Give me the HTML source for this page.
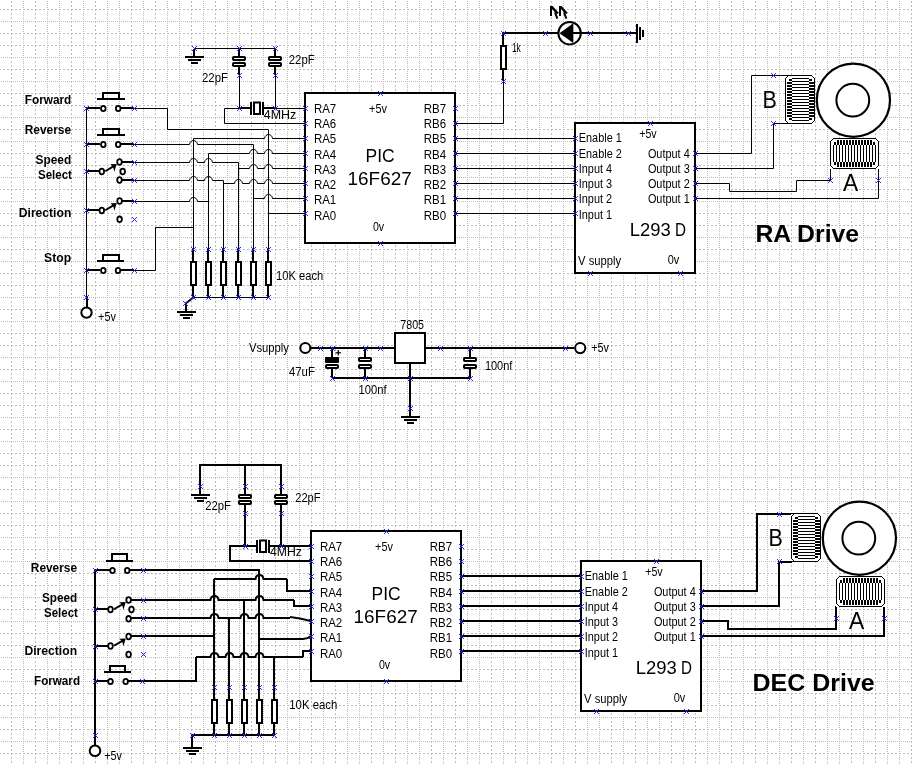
<!DOCTYPE html><html><head><meta charset="utf-8"><title>Telescope drive schematic</title><style>html,body{margin:0;padding:0;background:#fff;overflow:hidden;}svg{display:block;will-change:transform;}text{font-family:"Liberation Sans",sans-serif;fill:#000;}</style></head><body>
<svg width="912" height="764" viewBox="0 0 912 764">
<defs>
<g id="mk"><path d="M-2 -2h1v1h-1zM-1 -1h1v1h-1zM0 0h1v1h-1zM1 1h1v1h-1zM2 2h1v1h-1zM2 -2h1v1h-1zM1 -1h1v1h-1zM-1 1h1v1h-1zM-2 2h1v1h-1z" fill="#2030ff"/></g>
</defs>
<rect width="912" height="764" fill="#fff"/>
<g stroke="#bababa" stroke-width="1" fill="none" shape-rendering="crispEdges">
<path d="M11.5 1V764M35.5 1V764M71.5 1V764M95.5 1V764M131.5 1V764M155.5 1V764M191.5 1V764M215.5 1V764M251.5 1V764M275.5 1V764M311.5 1V764M335.5 1V764M371.5 1V764M395.5 1V764M431.5 1V764M455.5 1V764M491.5 1V764M515.5 1V764M551.5 1V764M575.5 1V764M611.5 1V764M635.5 1V764M671.5 1V764M695.5 1V764M731.5 1V764M755.5 1V764M791.5 1V764M815.5 1V764M851.5 1V764M875.5 1V764M911.5 1V764M-1 9.5H912M-1 33.5H912M-1 45.5H912M-1 69.5H912M-1 93.5H912M-1 105.5H912M-1 129.5H912M-1 153.5H912M-1 165.5H912M-1 189.5H912M-1 213.5H912M-1 225.5H912M-1 249.5H912M-1 273.5H912M-1 285.5H912M-1 309.5H912M-1 333.5H912M-1 345.5H912M-1 369.5H912M-1 393.5H912M-1 405.5H912M-1 429.5H912M-1 453.5H912M-1 465.5H912M-1 489.5H912M-1 513.5H912M-1 525.5H912M-1 549.5H912M-1 573.5H912M-1 585.5H912M-1 609.5H912M-1 633.5H912M-1 645.5H912M-1 669.5H912M-1 693.5H912M-1 705.5H912M-1 729.5H912M-1 753.5H912" stroke-dasharray="2 2"/>
<path d="M23.5 1V764M47.5 1V764M59.5 1V764M83.5 1V764M107.5 1V764M119.5 1V764M143.5 1V764M167.5 1V764M179.5 1V764M203.5 1V764M227.5 1V764M239.5 1V764M263.5 1V764M287.5 1V764M299.5 1V764M323.5 1V764M347.5 1V764M359.5 1V764M383.5 1V764M407.5 1V764M419.5 1V764M443.5 1V764M467.5 1V764M479.5 1V764M503.5 1V764M527.5 1V764M539.5 1V764M563.5 1V764M587.5 1V764M599.5 1V764M623.5 1V764M647.5 1V764M659.5 1V764M683.5 1V764M707.5 1V764M719.5 1V764M743.5 1V764M767.5 1V764M779.5 1V764M803.5 1V764M827.5 1V764M839.5 1V764M863.5 1V764M887.5 1V764M899.5 1V764M1 21.5H912M1 57.5H912M1 81.5H912M1 117.5H912M1 141.5H912M1 177.5H912M1 201.5H912M1 237.5H912M1 261.5H912M1 297.5H912M1 321.5H912M1 357.5H912M1 381.5H912M1 417.5H912M1 441.5H912M1 477.5H912M1 501.5H912M1 537.5H912M1 561.5H912M1 597.5H912M1 621.5H912M1 657.5H912M1 681.5H912M1 717.5H912M1 741.5H912" stroke-dasharray="1 1"/>
</g>
<path d="M194.5 48.5 L275.5 48.5" stroke="#000" stroke-width="1" fill="none"/>
<rect x="193" y="49" width="2" height="7" fill="#000"/>
<rect x="185" y="56" width="19" height="2" fill="#000"/>
<rect x="188" y="59" width="13" height="2" fill="#000"/>
<rect x="191" y="62" width="7" height="2" fill="#000"/>
<path d="M239 49 L239 56" stroke="#000" stroke-width="2" fill="none"/>
<rect x="233" y="57" width="12" height="3" rx="0.8" stroke="#000" stroke-width="2" fill="#fff"/>
<rect x="233" y="63" width="12" height="3" rx="0.8" stroke="#000" stroke-width="2" fill="#fff"/>
<path d="M239 67 L239 75" stroke="#000" stroke-width="2" fill="none"/>
<path d="M239.5 75.5 L239.5 108.5" stroke="#000" stroke-width="1" fill="none"/>
<path d="M275 49 L275 56" stroke="#000" stroke-width="2" fill="none"/>
<rect x="269" y="57" width="12" height="3" rx="0.8" stroke="#000" stroke-width="2" fill="#fff"/>
<rect x="269" y="63" width="12" height="3" rx="0.8" stroke="#000" stroke-width="2" fill="#fff"/>
<path d="M275 67 L275 75" stroke="#000" stroke-width="2" fill="none"/>
<path d="M275.5 75.5 L275.5 108.5" stroke="#000" stroke-width="1" fill="none"/>
<path d="M239 108 L250 108" stroke="#000" stroke-width="2" fill="none"/>
<path d="M264 108 L275 108" stroke="#000" stroke-width="2" fill="none"/>
<rect x="250" y="102" width="2" height="13" fill="#000"/>
<rect x="262" y="102" width="2" height="13" fill="#000"/>
<rect x="254" y="102.5" width="6" height="11.5" stroke="#000" stroke-width="2" fill="#fff"/>
<path d="M239.5 108.5 L224.5 108.5 L224.5 123.5 L305.5 123.5" stroke="#000" stroke-width="1" fill="none"/>
<path d="M275.5 108.5 L305.5 108.5" stroke="#000" stroke-width="1" fill="none"/>
<text x="202" y="82" font-size="13" font-weight="normal" textLength="25.9" lengthAdjust="spacingAndGlyphs">22pF</text>
<text x="288.8" y="63.6" font-size="13" font-weight="normal" textLength="25.9" lengthAdjust="spacingAndGlyphs">22pF</text>
<text x="263.8" y="118.7" font-size="13" font-weight="normal" textLength="32.55" lengthAdjust="spacingAndGlyphs">4MHz</text>
<rect x="305" y="93" width="150" height="150" stroke="#000" stroke-width="2" fill="#fff"/>
<text x="313.9" y="112.8" font-size="13" font-weight="normal" textLength="22.33" lengthAdjust="spacingAndGlyphs">RA7</text>
<text x="313.9" y="128.05" font-size="13" font-weight="normal" textLength="22.33" lengthAdjust="spacingAndGlyphs">RA6</text>
<text x="313.9" y="143.3" font-size="13" font-weight="normal" textLength="22.33" lengthAdjust="spacingAndGlyphs">RA5</text>
<text x="313.9" y="158.55" font-size="13" font-weight="normal" textLength="22.33" lengthAdjust="spacingAndGlyphs">RA4</text>
<text x="313.9" y="173.8" font-size="13" font-weight="normal" textLength="22.33" lengthAdjust="spacingAndGlyphs">RA3</text>
<text x="313.9" y="189.05" font-size="13" font-weight="normal" textLength="22.33" lengthAdjust="spacingAndGlyphs">RA2</text>
<text x="313.9" y="204.3" font-size="13" font-weight="normal" textLength="22.33" lengthAdjust="spacingAndGlyphs">RA1</text>
<text x="313.9" y="219.55" font-size="13" font-weight="normal" textLength="22.33" lengthAdjust="spacingAndGlyphs">RA0</text>
<text x="423.8" y="112.8" font-size="13" font-weight="normal" textLength="22.33" lengthAdjust="spacingAndGlyphs">RB7</text>
<text x="423.8" y="128.05" font-size="13" font-weight="normal" textLength="22.33" lengthAdjust="spacingAndGlyphs">RB6</text>
<text x="423.8" y="143.3" font-size="13" font-weight="normal" textLength="22.33" lengthAdjust="spacingAndGlyphs">RB5</text>
<text x="423.8" y="158.55" font-size="13" font-weight="normal" textLength="22.33" lengthAdjust="spacingAndGlyphs">RB4</text>
<text x="423.8" y="173.8" font-size="13" font-weight="normal" textLength="22.33" lengthAdjust="spacingAndGlyphs">RB3</text>
<text x="423.8" y="189.05" font-size="13" font-weight="normal" textLength="22.33" lengthAdjust="spacingAndGlyphs">RB2</text>
<text x="423.8" y="204.3" font-size="13" font-weight="normal" textLength="22.33" lengthAdjust="spacingAndGlyphs">RB1</text>
<text x="423.8" y="219.55" font-size="13" font-weight="normal" textLength="22.33" lengthAdjust="spacingAndGlyphs">RB0</text>
<text x="369.1" y="112.7" font-size="13" font-weight="normal" textLength="17.86" lengthAdjust="spacingAndGlyphs">+5v</text>
<text x="365.5" y="162" font-size="19" font-weight="normal" textLength="29.13" lengthAdjust="spacingAndGlyphs">PIC</text>
<text x="347.6" y="185" font-size="19" font-weight="normal" textLength="64.14" lengthAdjust="spacingAndGlyphs">16F627</text>
<text x="372.9" y="230.8" font-size="13" font-weight="normal" textLength="11.18" lengthAdjust="spacingAndGlyphs">0v</text>
<path d="M86.5 108.5 L86.5 297.5" stroke="#000" stroke-width="1" fill="none"/>
<path d="M86 108 L100 108" stroke="#000" stroke-width="2" fill="none"/>
<path d="M120 108 L134 108" stroke="#000" stroke-width="2" fill="none"/>
<ellipse cx="103.3" cy="108.5" rx="2.3" ry="2.7" stroke="#000" stroke-width="1.8" fill="#fff"/>
<ellipse cx="118.2" cy="108.5" rx="2.3" ry="2.7" stroke="#000" stroke-width="1.8" fill="#fff"/>
<path d="M97 99 L125 99" stroke="#000" stroke-width="2" fill="none"/>
<path d="M103 99 L103 93 L119 93 L119 99" stroke="#000" stroke-width="2" fill="none"/>
<path d="M86 144 L100 144" stroke="#000" stroke-width="2" fill="none"/>
<path d="M120 144 L134 144" stroke="#000" stroke-width="2" fill="none"/>
<ellipse cx="103.3" cy="144.5" rx="2.3" ry="2.7" stroke="#000" stroke-width="1.8" fill="#fff"/>
<ellipse cx="118.2" cy="144.5" rx="2.3" ry="2.7" stroke="#000" stroke-width="1.8" fill="#fff"/>
<path d="M97 135 L125 135" stroke="#000" stroke-width="2" fill="none"/>
<path d="M103 135 L103 129 L119 129 L119 135" stroke="#000" stroke-width="2" fill="none"/>
<path d="M86 171 L99 171" stroke="#000" stroke-width="2" fill="none"/>
<ellipse cx="101.8" cy="171.5" rx="2.3" ry="2.8" stroke="#000" stroke-width="1.8" fill="#fff"/>
<ellipse cx="119.5" cy="162" rx="2.3" ry="2.8" stroke="#000" stroke-width="1.8" fill="#fff"/>
<path d="M121 162 L134 162" stroke="#000" stroke-width="2" fill="none"/>
<ellipse cx="122.7" cy="171.5" rx="2.3" ry="2.8" stroke="#000" stroke-width="1.8" fill="#fff"/>
<ellipse cx="119.5" cy="180" rx="2.3" ry="2.8" stroke="#000" stroke-width="1.8" fill="#fff"/>
<path d="M121 180 L134 180" stroke="#000" stroke-width="2" fill="none"/>
<path d="M105.2 171.2 L114.6 165.6" stroke="#000" stroke-width="1.9" fill="none"/>
<path d="M110.3 164.3 L116.7 164.1 L114.3 171.7 L113.1 166.9 Z" fill="#000"/>
<path d="M86 210 L99 210" stroke="#000" stroke-width="2" fill="none"/>
<ellipse cx="101.8" cy="210.5" rx="2.3" ry="2.8" stroke="#000" stroke-width="1.8" fill="#fff"/>
<ellipse cx="119.6" cy="201" rx="2.3" ry="2.8" stroke="#000" stroke-width="1.8" fill="#fff"/>
<path d="M122 201 L134 201" stroke="#000" stroke-width="2" fill="none"/>
<ellipse cx="119.6" cy="219.3" rx="2.3" ry="2.8" stroke="#000" stroke-width="1.8" fill="#fff"/>
<path d="M105.2 210.2 L114.7 204.6" stroke="#000" stroke-width="1.9" fill="none"/>
<path d="M110.4 203.3 L116.8 203.1 L114.4 210.7 L113.2 205.9 Z" fill="#000"/>
<path d="M86 270 L100 270" stroke="#000" stroke-width="2" fill="none"/>
<path d="M120 270 L134 270" stroke="#000" stroke-width="2" fill="none"/>
<ellipse cx="103.3" cy="270.5" rx="2.3" ry="2.7" stroke="#000" stroke-width="1.8" fill="#fff"/>
<ellipse cx="118" cy="270.5" rx="2.3" ry="2.7" stroke="#000" stroke-width="1.8" fill="#fff"/>
<path d="M97 261 L124 261" stroke="#000" stroke-width="2" fill="none"/>
<path d="M103 261 L103 255 L119 255 L119 261" stroke="#000" stroke-width="2" fill="none"/>
<circle cx="86.5" cy="312.6" r="5.2" stroke="#000" stroke-width="2" fill="#fff"/>
<path d="M87 297 L87 307" stroke="#000" stroke-width="2" fill="none"/>
<text x="98.1" y="321.4" font-size="13" font-weight="normal" textLength="17.86" lengthAdjust="spacingAndGlyphs">+5v</text>
<text x="24.7" y="103.9" font-size="13" font-weight="bold" textLength="46.63" lengthAdjust="spacingAndGlyphs">Forward</text>
<text x="24.7" y="133.7" font-size="13" font-weight="bold" textLength="46.39" lengthAdjust="spacingAndGlyphs">Reverse</text>
<text x="35.5" y="163.9" font-size="13" font-weight="bold" textLength="35.71" lengthAdjust="spacingAndGlyphs">Speed</text>
<text x="38" y="178.8" font-size="13" font-weight="bold" textLength="33.95" lengthAdjust="spacingAndGlyphs">Select</text>
<text x="18.8" y="216.7" font-size="13" font-weight="bold" textLength="52.49" lengthAdjust="spacingAndGlyphs">Direction</text>
<text x="44" y="261.7" font-size="13" font-weight="bold" textLength="27.09" lengthAdjust="spacingAndGlyphs">Stop</text>
<path d="M134.5 108.5 L167.5 108.5 L167.5 129.5 L268.5 129.5 L268.5 249.5" stroke="#000" stroke-width="1" fill="none"/>
<path d="M268.5 213.5 L305.5 213.5" stroke="#000" stroke-width="1" fill="none"/>
<path d="M134.5 144.5 L189.5 144.5 C190.1 139.18 196.9 139.18 197.5 144.5 L253.5 144.5" stroke="#000" stroke-width="1" fill="none"/>
<path d="M253.5 144.5 L253.5 249.5" stroke="#000" stroke-width="1" fill="none"/>
<path d="M253.5 198.5 L264.5 198.5 C265.1 193.18 271.9 193.18 272.5 198.5 L305.5 198.5" stroke="#000" stroke-width="1" fill="none"/>
<path d="M134.5 162.5 L189.5 162.5 C190.1 157.18 196.9 157.18 197.5 162.5 L204.5 162.5 C205.1 157.18 211.9 157.18 212.5 162.5 L238.5 162.5" stroke="#000" stroke-width="1" fill="none"/>
<path d="M238.5 162.5 L238.5 249.5" stroke="#000" stroke-width="1" fill="none"/>
<path d="M238.5 168.5 L249.5 168.5 C250.1 163.18 256.9 163.18 257.5 168.5 L264.5 168.5 C265.1 163.18 271.9 163.18 272.5 168.5 L305.5 168.5" stroke="#000" stroke-width="1" fill="none"/>
<path d="M134.5 180.5 L189.5 180.5 C190.1 175.18 196.9 175.18 197.5 180.5 L204.5 180.5 C205.1 175.18 211.9 175.18 212.5 180.5 L223.5 180.5" stroke="#000" stroke-width="1" fill="none"/>
<path d="M223.5 180.5 L223.5 249.5" stroke="#000" stroke-width="1" fill="none"/>
<path d="M223.5 183.5 L234.5 183.5 C235.1 178.18 241.9 178.18 242.5 183.5 L249.5 183.5 C250.1 178.18 256.9 178.18 257.5 183.5 L264.5 183.5 C265.1 178.18 271.9 178.18 272.5 183.5 L305.5 183.5" stroke="#000" stroke-width="1" fill="none"/>
<path d="M134.5 201.5 L189.5 201.5 C190.1 196.18 196.9 196.18 197.5 201.5 L208.5 201.5" stroke="#000" stroke-width="1" fill="none"/>
<path d="M208.5 153.5 L249.5 153.5 C250.1 148.18 256.9 148.18 257.5 153.5 L264.5 153.5 C265.1 148.18 271.9 148.18 272.5 153.5 L305.5 153.5" stroke="#000" stroke-width="1" fill="none"/>
<path d="M208.5 153.5 L208.5 249.5" stroke="#000" stroke-width="1" fill="none"/>
<path d="M134.5 270.5 L155.5 270.5 L155.5 227.5 L193.5 227.5" stroke="#000" stroke-width="1" fill="none"/>
<path d="M193.5 138.5 L264.5 138.5 C265.1 133.18 271.9 133.18 272.5 138.5 L305.5 138.5" stroke="#000" stroke-width="1" fill="none"/>
<path d="M193.5 138.5 L193.5 249.5" stroke="#000" stroke-width="1" fill="none"/>
<path d="M193 249 L193 261" stroke="#000" stroke-width="2" fill="none"/>
<rect x="191" y="262" width="5" height="23" stroke="#000" stroke-width="2" fill="#fff"/>
<path d="M193 286 L193 297" stroke="#000" stroke-width="2" fill="none"/>
<path d="M208 249 L208 261" stroke="#000" stroke-width="2" fill="none"/>
<rect x="206" y="262" width="5" height="23" stroke="#000" stroke-width="2" fill="#fff"/>
<path d="M208 286 L208 297" stroke="#000" stroke-width="2" fill="none"/>
<path d="M223 249 L223 261" stroke="#000" stroke-width="2" fill="none"/>
<rect x="221" y="262" width="5" height="23" stroke="#000" stroke-width="2" fill="#fff"/>
<path d="M223 286 L223 297" stroke="#000" stroke-width="2" fill="none"/>
<path d="M238 249 L238 261" stroke="#000" stroke-width="2" fill="none"/>
<rect x="236" y="262" width="5" height="23" stroke="#000" stroke-width="2" fill="#fff"/>
<path d="M238 286 L238 297" stroke="#000" stroke-width="2" fill="none"/>
<path d="M253 249 L253 261" stroke="#000" stroke-width="2" fill="none"/>
<rect x="251" y="262" width="5" height="23" stroke="#000" stroke-width="2" fill="#fff"/>
<path d="M253 286 L253 297" stroke="#000" stroke-width="2" fill="none"/>
<path d="M268 249 L268 261" stroke="#000" stroke-width="2" fill="none"/>
<rect x="266" y="262" width="5" height="23" stroke="#000" stroke-width="2" fill="#fff"/>
<path d="M268 286 L268 297" stroke="#000" stroke-width="2" fill="none"/>
<path d="M193.5 297.5 L268.5 297.5" stroke="#000" stroke-width="1" fill="none"/>
<path d="M193.5 297.5 L185.5 303.5" stroke="#000" stroke-width="2" fill="none"/>
<path d="M186 303 L186 311" stroke="#000" stroke-width="2" fill="none"/>
<rect x="177" y="311" width="19" height="2" fill="#000"/>
<rect x="180" y="314" width="13" height="2" fill="#000"/>
<rect x="183" y="317" width="7" height="2" fill="#000"/>
<text x="276.1" y="279.5" font-size="13" font-weight="normal" textLength="47.05" lengthAdjust="spacingAndGlyphs">10K each</text>
<path d="M455.5 138.5 L575.5 138.5" stroke="#000" stroke-width="1" fill="none"/>
<path d="M455.5 153.5 L575.5 153.5" stroke="#000" stroke-width="1" fill="none"/>
<path d="M455.5 168.5 L575.5 168.5" stroke="#000" stroke-width="1" fill="none"/>
<path d="M455.5 183.5 L575.5 183.5" stroke="#000" stroke-width="1" fill="none"/>
<path d="M455.5 198.5 L575.5 198.5" stroke="#000" stroke-width="1" fill="none"/>
<path d="M455.5 213.5 L575.5 213.5" stroke="#000" stroke-width="1" fill="none"/>
<path d="M455.5 123.5 L503.5 123.5 L503.5 81.5" stroke="#000" stroke-width="1" fill="none"/>
<path d="M503 81 L503 69" stroke="#000" stroke-width="2" fill="none"/>
<rect x="501" y="46" width="5" height="23" stroke="#000" stroke-width="2" fill="#fff"/>
<path d="M503 45 L503 33" stroke="#000" stroke-width="2" fill="none"/>
<text x="511.9" y="51.8" font-size="13" font-weight="normal" textLength="8.92" lengthAdjust="spacingAndGlyphs">1k</text>
<path d="M503 33 L637 33" stroke="#000" stroke-width="2" fill="none"/>
<circle cx="569.6" cy="33.2" r="11.2" stroke="#000" stroke-width="2" fill="#fff"/>
<path d="M559.5 33.2 L572.6 23.8 L572.6 42.4 Z" fill="#000"/>
<path d="M572.6 23.8 L572.6 42.4" stroke="#000" stroke-width="1.5" fill="none"/>
<path d="M572 33 L581 33" stroke="#000" stroke-width="2" fill="none"/>
<rect x="550" y="6" width="2" height="10" fill="#000"/>
<path d="M550 6 L552.6 6 L558.2 12.2 L558.2 13.8 L556.2 13.8 L551.6 8.6 Z" fill="#000"/>
<path d="M555 12.5 L557.4 18.6" stroke="#000" stroke-width="2" fill="none"/>
<rect x="559" y="6" width="2" height="10" fill="#000"/>
<path d="M559 6 L561.6 6 L567.2 12.2 L567.2 13.8 L565.2 13.8 L560.6 8.6 Z" fill="#000"/>
<path d="M564 12.5 L566.4 18.6" stroke="#000" stroke-width="2" fill="none"/>
<rect x="636" y="24" width="2" height="19" fill="#000"/>
<rect x="639" y="27" width="2" height="13" fill="#000"/>
<rect x="642" y="30" width="2" height="7" fill="#000"/>
<rect x="575" y="123" width="120" height="150" stroke="#000" stroke-width="2" fill="#fff"/>
<text x="578.8" y="142.4" font-size="13" font-weight="normal" textLength="42.96" lengthAdjust="spacingAndGlyphs">Enable 1</text>
<text x="578.8" y="157.65" font-size="13" font-weight="normal" textLength="42.96" lengthAdjust="spacingAndGlyphs">Enable 2</text>
<text x="578.8" y="172.9" font-size="13" font-weight="normal" textLength="33.28" lengthAdjust="spacingAndGlyphs">Input 4</text>
<text x="578.8" y="188.15" font-size="13" font-weight="normal" textLength="33.28" lengthAdjust="spacingAndGlyphs">Input 3</text>
<text x="578.8" y="203.4" font-size="13" font-weight="normal" textLength="33.28" lengthAdjust="spacingAndGlyphs">Input 2</text>
<text x="578.8" y="218.65" font-size="13" font-weight="normal" textLength="33.28" lengthAdjust="spacingAndGlyphs">Input 1</text>
<text x="647.9" y="157.6" font-size="13" font-weight="normal" textLength="41.8" lengthAdjust="spacingAndGlyphs">Output 4</text>
<text x="647.9" y="172.85" font-size="13" font-weight="normal" textLength="41.8" lengthAdjust="spacingAndGlyphs">Output 3</text>
<text x="647.9" y="188.1" font-size="13" font-weight="normal" textLength="41.8" lengthAdjust="spacingAndGlyphs">Output 2</text>
<text x="647.9" y="203.35" font-size="13" font-weight="normal" textLength="41.8" lengthAdjust="spacingAndGlyphs">Output 1</text>
<text x="639.2" y="137.7" font-size="13" font-weight="normal" textLength="17.46" lengthAdjust="spacingAndGlyphs">+5v</text>
<text x="629.7" y="236" font-size="19" font-weight="normal" textLength="41.02" lengthAdjust="spacingAndGlyphs">L293</text>
<text x="674.9" y="236" font-size="19" font-weight="normal" textLength="10.98" lengthAdjust="spacingAndGlyphs">D</text>
<text x="578.1" y="265" font-size="13" font-weight="normal" textLength="43" lengthAdjust="spacingAndGlyphs">V supply</text>
<text x="667.7" y="263.9" font-size="13" font-weight="normal" textLength="11.58" lengthAdjust="spacingAndGlyphs">0v</text>
<path d="M695.5 153.5 L751.5 153.5 L751.5 75.5 L786.5 75.5" stroke="#000" stroke-width="1" fill="none"/>
<path d="M695.5 168.5 L773.5 168.5 L773.5 123.5 L786.5 123.5" stroke="#000" stroke-width="1" fill="none"/>
<path d="M695.5 183.5 L729.5 183.5 L729.5 191.5 L796.5 191.5 L796.5 180.5 L830.5 180.5 L830.5 168.5" stroke="#000" stroke-width="1" fill="none"/>
<path d="M695.5 198.5 L878.5 198.5 L878.5 168.5" stroke="#000" stroke-width="1" fill="none"/>
<circle cx="853.4" cy="100.2" r="36.6" stroke="#000" stroke-width="2.2" fill="#fff"/>
<circle cx="852.8" cy="100.2" r="16.4" stroke="#000" stroke-width="2" fill="#fff"/>
<rect x="785" y="75" width="30" height="49" fill="#fff"/>
<rect x="784" y="75" width="28" height="1" fill="#000"/>
<rect x="792" y="78" width="17" height="1" fill="#000"/>
<rect x="792" y="81" width="17" height="1" fill="#000"/>
<rect x="792" y="84" width="17" height="1" fill="#000"/>
<rect x="792" y="87" width="17" height="1" fill="#000"/>
<rect x="792" y="90" width="17" height="1" fill="#000"/>
<rect x="792" y="93" width="17" height="1" fill="#000"/>
<rect x="792" y="96" width="17" height="1" fill="#000"/>
<rect x="792" y="99" width="17" height="1" fill="#000"/>
<rect x="792" y="102" width="17" height="1" fill="#000"/>
<rect x="792" y="105" width="17" height="1" fill="#000"/>
<rect x="792" y="108" width="17" height="1" fill="#000"/>
<rect x="792" y="111" width="17" height="1" fill="#000"/>
<rect x="792" y="114" width="17" height="1" fill="#000"/>
<rect x="792" y="117" width="17" height="1" fill="#000"/>
<rect x="792" y="120" width="17" height="1" fill="#000"/>
<rect x="784" y="123" width="28" height="1" fill="#000"/>
<rect x="789" y="79" width="3" height="2" fill="#000"/>
<rect x="809" y="79" width="3" height="2" fill="#000"/>
<rect x="787" y="82" width="5" height="2" fill="#000"/>
<rect x="809" y="82" width="5" height="2" fill="#000"/>
<rect x="787" y="85" width="5" height="2" fill="#000"/>
<rect x="809" y="85" width="5" height="2" fill="#000"/>
<rect x="787" y="88" width="5" height="2" fill="#000"/>
<rect x="809" y="88" width="5" height="2" fill="#000"/>
<rect x="787" y="91" width="5" height="2" fill="#000"/>
<rect x="809" y="91" width="5" height="2" fill="#000"/>
<rect x="787" y="94" width="5" height="2" fill="#000"/>
<rect x="809" y="94" width="5" height="2" fill="#000"/>
<rect x="787" y="97" width="5" height="2" fill="#000"/>
<rect x="809" y="97" width="5" height="2" fill="#000"/>
<rect x="787" y="100" width="5" height="2" fill="#000"/>
<rect x="809" y="100" width="5" height="2" fill="#000"/>
<rect x="787" y="103" width="5" height="2" fill="#000"/>
<rect x="809" y="103" width="5" height="2" fill="#000"/>
<rect x="787" y="106" width="5" height="2" fill="#000"/>
<rect x="809" y="106" width="5" height="2" fill="#000"/>
<rect x="787" y="109" width="5" height="2" fill="#000"/>
<rect x="809" y="109" width="5" height="2" fill="#000"/>
<rect x="787" y="112" width="5" height="2" fill="#000"/>
<rect x="809" y="112" width="5" height="2" fill="#000"/>
<rect x="787" y="115" width="5" height="2" fill="#000"/>
<rect x="809" y="115" width="5" height="2" fill="#000"/>
<rect x="789" y="118" width="3" height="2" fill="#000"/>
<rect x="809" y="118" width="3" height="2" fill="#000"/>
<rect x="785" y="78" width="1" height="43" fill="#000"/>
<rect x="814" y="78" width="1" height="43" fill="#000"/>
<rect x="786" y="77" width="1" height="1" fill="#000"/>
<rect x="787" y="76" width="1" height="1" fill="#000"/>
<rect x="812" y="76" width="1" height="1" fill="#000"/>
<rect x="813" y="77" width="1" height="1" fill="#000"/>
<rect x="786" y="121" width="1" height="1" fill="#000"/>
<rect x="787" y="122" width="1" height="1" fill="#000"/>
<rect x="812" y="122" width="1" height="1" fill="#000"/>
<rect x="813" y="121" width="1" height="1" fill="#000"/>
<rect x="830" y="138" width="49" height="31" fill="#fff"/>
<rect x="830" y="141" width="1" height="25" fill="#000"/>
<rect x="833" y="145" width="1" height="17" fill="#000"/>
<rect x="836" y="145" width="1" height="17" fill="#000"/>
<rect x="839" y="145" width="1" height="17" fill="#000"/>
<rect x="842" y="145" width="1" height="17" fill="#000"/>
<rect x="845" y="145" width="1" height="17" fill="#000"/>
<rect x="848" y="145" width="1" height="17" fill="#000"/>
<rect x="851" y="145" width="1" height="17" fill="#000"/>
<rect x="854" y="145" width="1" height="17" fill="#000"/>
<rect x="857" y="145" width="1" height="17" fill="#000"/>
<rect x="860" y="145" width="1" height="17" fill="#000"/>
<rect x="863" y="145" width="1" height="17" fill="#000"/>
<rect x="866" y="145" width="1" height="17" fill="#000"/>
<rect x="869" y="145" width="1" height="17" fill="#000"/>
<rect x="872" y="145" width="1" height="17" fill="#000"/>
<rect x="875" y="145" width="1" height="17" fill="#000"/>
<rect x="878" y="141" width="1" height="25" fill="#000"/>
<rect x="834" y="142" width="2" height="3" fill="#000"/>
<rect x="834" y="162" width="2" height="3" fill="#000"/>
<rect x="837" y="140" width="2" height="5" fill="#000"/>
<rect x="837" y="162" width="2" height="5" fill="#000"/>
<rect x="840" y="140" width="2" height="5" fill="#000"/>
<rect x="840" y="162" width="2" height="5" fill="#000"/>
<rect x="843" y="140" width="2" height="5" fill="#000"/>
<rect x="843" y="162" width="2" height="5" fill="#000"/>
<rect x="846" y="140" width="2" height="5" fill="#000"/>
<rect x="846" y="162" width="2" height="5" fill="#000"/>
<rect x="849" y="140" width="2" height="5" fill="#000"/>
<rect x="849" y="162" width="2" height="5" fill="#000"/>
<rect x="852" y="140" width="2" height="5" fill="#000"/>
<rect x="852" y="162" width="2" height="5" fill="#000"/>
<rect x="855" y="140" width="2" height="5" fill="#000"/>
<rect x="855" y="162" width="2" height="5" fill="#000"/>
<rect x="858" y="140" width="2" height="5" fill="#000"/>
<rect x="858" y="162" width="2" height="5" fill="#000"/>
<rect x="861" y="140" width="2" height="5" fill="#000"/>
<rect x="861" y="162" width="2" height="5" fill="#000"/>
<rect x="864" y="140" width="2" height="5" fill="#000"/>
<rect x="864" y="162" width="2" height="5" fill="#000"/>
<rect x="867" y="140" width="2" height="5" fill="#000"/>
<rect x="867" y="162" width="2" height="5" fill="#000"/>
<rect x="870" y="140" width="2" height="5" fill="#000"/>
<rect x="870" y="162" width="2" height="5" fill="#000"/>
<rect x="873" y="142" width="2" height="3" fill="#000"/>
<rect x="873" y="162" width="2" height="3" fill="#000"/>
<rect x="833" y="138" width="43" height="1" fill="#000"/>
<rect x="833" y="168" width="43" height="1" fill="#000"/>
<rect x="831" y="140" width="1" height="1" fill="#000"/>
<rect x="832" y="139" width="1" height="1" fill="#000"/>
<rect x="876" y="139" width="1" height="1" fill="#000"/>
<rect x="877" y="140" width="1" height="1" fill="#000"/>
<rect x="831" y="166" width="1" height="1" fill="#000"/>
<rect x="832" y="167" width="1" height="1" fill="#000"/>
<rect x="876" y="167" width="1" height="1" fill="#000"/>
<rect x="877" y="166" width="1" height="1" fill="#000"/>
<text x="762.4" y="108" font-size="24" font-weight="normal" textLength="14.31" lengthAdjust="spacingAndGlyphs">B</text>
<text x="843" y="190.5" font-size="24" font-weight="normal" textLength="15.21" lengthAdjust="spacingAndGlyphs">A</text>
<text x="755.4" y="241.8" font-size="24.5" font-weight="bold" textLength="103.67" lengthAdjust="spacingAndGlyphs">RA Drive</text>
<circle cx="305.3" cy="348.1" r="5" stroke="#000" stroke-width="2" fill="#fff"/>
<path d="M310 348 L394 348" stroke="#000" stroke-width="2" fill="none"/>
<path d="M425 348 L574 348" stroke="#000" stroke-width="2" fill="none"/>
<rect x="395" y="333" width="30" height="30" stroke="#000" stroke-width="2" fill="#fff"/>
<path d="M332 348 L332 357" stroke="#000" stroke-width="2" fill="none"/>
<rect x="325" y="357" width="14" height="6" rx="0.7" fill="#000"/>
<rect x="326" y="365" width="12" height="3" rx="0.8" stroke="#000" stroke-width="2" fill="#fff"/>
<path d="M332 369 L332 378" stroke="#000" stroke-width="2" fill="none"/>
<path d="M335.5 352.8 L341 352.8" stroke="#000" stroke-width="1.2" fill="none"/>
<path d="M338.3 350 L338.3 355.6" stroke="#000" stroke-width="1.2" fill="none"/>
<path d="M365 348 L365 357" stroke="#000" stroke-width="2" fill="none"/>
<rect x="359" y="358" width="12" height="3" rx="0.8" stroke="#000" stroke-width="2" fill="#fff"/>
<rect x="359" y="365" width="12" height="3" rx="0.8" stroke="#000" stroke-width="2" fill="#fff"/>
<path d="M365 369 L365 378" stroke="#000" stroke-width="2" fill="none"/>
<path d="M332 378 L470 378" stroke="#000" stroke-width="2" fill="none"/>
<path d="M410 364 L410 416" stroke="#000" stroke-width="2" fill="none"/>
<rect x="401" y="416" width="19" height="2" fill="#000"/>
<rect x="404" y="419" width="13" height="2" fill="#000"/>
<rect x="407" y="422" width="7" height="2" fill="#000"/>
<path d="M470 348 L470 357" stroke="#000" stroke-width="2" fill="none"/>
<rect x="464" y="358" width="12" height="3" rx="0.8" stroke="#000" stroke-width="2" fill="#fff"/>
<rect x="464" y="365" width="12" height="3" rx="0.8" stroke="#000" stroke-width="2" fill="#fff"/>
<path d="M470 369 L470 378" stroke="#000" stroke-width="2" fill="none"/>
<circle cx="580.2" cy="348.1" r="5.1" stroke="#000" stroke-width="2" fill="#fff"/>
<text x="248.9" y="351.7" font-size="13" font-weight="normal" textLength="40.1" lengthAdjust="spacingAndGlyphs">Vsupply</text>
<text x="400.3" y="328.5" font-size="13" font-weight="normal" textLength="23.74" lengthAdjust="spacingAndGlyphs">7805</text>
<text x="289" y="375.7" font-size="13" font-weight="normal" textLength="25.8" lengthAdjust="spacingAndGlyphs">47uF</text>
<text x="358.5" y="393.7" font-size="13" font-weight="normal" textLength="28.02" lengthAdjust="spacingAndGlyphs">100nf</text>
<text x="484.9" y="369.5" font-size="13" font-weight="normal" textLength="27.52" lengthAdjust="spacingAndGlyphs">100nf</text>
<text x="591.2" y="351.9" font-size="13" font-weight="normal" textLength="17.66" lengthAdjust="spacingAndGlyphs">+5v</text>
<use href="#mk" x="194" y="48"/>
<use href="#mk" x="239" y="48"/>
<use href="#mk" x="275" y="48"/>
<use href="#mk" x="239" y="75"/>
<use href="#mk" x="275" y="75"/>
<use href="#mk" x="239" y="108"/>
<use href="#mk" x="275" y="108"/>
<use href="#mk" x="380" y="93"/>
<use href="#mk" x="380" y="243"/>
<use href="#mk" x="86" y="108"/>
<use href="#mk" x="134" y="108"/>
<use href="#mk" x="86" y="144"/>
<use href="#mk" x="134" y="144"/>
<use href="#mk" x="86" y="171"/>
<use href="#mk" x="134" y="162"/>
<use href="#mk" x="134" y="180"/>
<use href="#mk" x="86" y="210"/>
<use href="#mk" x="134" y="201"/>
<use href="#mk" x="134" y="219"/>
<use href="#mk" x="86" y="270"/>
<use href="#mk" x="134" y="270"/>
<use href="#mk" x="86" y="297"/>
<use href="#mk" x="185" y="303"/>
<use href="#mk" x="503" y="81"/>
<use href="#mk" x="503" y="33"/>
<use href="#mk" x="545" y="33"/>
<use href="#mk" x="590" y="33"/>
<use href="#mk" x="628" y="33"/>
<use href="#mk" x="650" y="123"/>
<use href="#mk" x="590" y="273"/>
<use href="#mk" x="680" y="273"/>
<use href="#mk" x="773" y="75"/>
<use href="#mk" x="773" y="123"/>
<use href="#mk" x="830" y="180"/>
<use href="#mk" x="878" y="180"/>
<use href="#mk" x="320" y="348"/>
<use href="#mk" x="332" y="348"/>
<use href="#mk" x="365" y="348"/>
<use href="#mk" x="380" y="348"/>
<use href="#mk" x="440" y="348"/>
<use href="#mk" x="470" y="348"/>
<use href="#mk" x="565" y="348"/>
<use href="#mk" x="332" y="378"/>
<use href="#mk" x="365" y="378"/>
<use href="#mk" x="410" y="378"/>
<use href="#mk" x="470" y="378"/>
<use href="#mk" x="410" y="408"/>
<use href="#mk" x="305" y="108"/>
<use href="#mk" x="455" y="108"/>
<use href="#mk" x="305" y="123"/>
<use href="#mk" x="455" y="123"/>
<use href="#mk" x="305" y="138"/>
<use href="#mk" x="455" y="138"/>
<use href="#mk" x="305" y="153"/>
<use href="#mk" x="455" y="153"/>
<use href="#mk" x="305" y="168"/>
<use href="#mk" x="455" y="168"/>
<use href="#mk" x="305" y="183"/>
<use href="#mk" x="455" y="183"/>
<use href="#mk" x="305" y="198"/>
<use href="#mk" x="455" y="198"/>
<use href="#mk" x="305" y="213"/>
<use href="#mk" x="455" y="213"/>
<use href="#mk" x="193" y="249"/>
<use href="#mk" x="193" y="297"/>
<use href="#mk" x="575" y="138"/>
<use href="#mk" x="208" y="249"/>
<use href="#mk" x="208" y="297"/>
<use href="#mk" x="575" y="153"/>
<use href="#mk" x="223" y="249"/>
<use href="#mk" x="223" y="297"/>
<use href="#mk" x="575" y="168"/>
<use href="#mk" x="238" y="249"/>
<use href="#mk" x="238" y="297"/>
<use href="#mk" x="575" y="183"/>
<use href="#mk" x="253" y="249"/>
<use href="#mk" x="253" y="297"/>
<use href="#mk" x="575" y="198"/>
<use href="#mk" x="268" y="249"/>
<use href="#mk" x="268" y="297"/>
<use href="#mk" x="575" y="213"/>
<use href="#mk" x="695" y="153"/>
<use href="#mk" x="695" y="168"/>
<use href="#mk" x="695" y="183"/>
<use href="#mk" x="695" y="198"/>
<path d="M200 486 L200 465 L281 465 L281 486" stroke="#000" stroke-width="2" fill="none"/>
<path d="M245 465 L245 486" stroke="#000" stroke-width="2" fill="none"/>
<rect x="199" y="486" width="2" height="8" fill="#000"/>
<rect x="191" y="494" width="19" height="2" fill="#000"/>
<rect x="194" y="497" width="13" height="2" fill="#000"/>
<rect x="197" y="500" width="7" height="2" fill="#000"/>
<path d="M245 486 L245 494" stroke="#000" stroke-width="2" fill="none"/>
<rect x="239" y="495" width="12" height="3" rx="0.8" stroke="#000" stroke-width="2" fill="#fff"/>
<rect x="239" y="501" width="12" height="3" rx="0.8" stroke="#000" stroke-width="2" fill="#fff"/>
<path d="M245 505 L245 546" stroke="#000" stroke-width="2" fill="none"/>
<path d="M281 486 L281 494" stroke="#000" stroke-width="2" fill="none"/>
<rect x="275" y="495" width="12" height="3" rx="0.8" stroke="#000" stroke-width="2" fill="#fff"/>
<rect x="275" y="501" width="12" height="3" rx="0.8" stroke="#000" stroke-width="2" fill="#fff"/>
<path d="M281 505 L281 546" stroke="#000" stroke-width="2" fill="none"/>
<path d="M245 546 L256 546" stroke="#000" stroke-width="2" fill="none"/>
<path d="M270 546 L281 546" stroke="#000" stroke-width="2" fill="none"/>
<rect x="256" y="540" width="2" height="13" fill="#000"/>
<rect x="268" y="540" width="2" height="13" fill="#000"/>
<rect x="260" y="540.5" width="6" height="11.5" stroke="#000" stroke-width="2" fill="#fff"/>
<path d="M245 546 L230 546 L230 561 L311 561" stroke="#000" stroke-width="2" fill="none"/>
<path d="M281 546 L311 546" stroke="#000" stroke-width="2" fill="none"/>
<text x="205.2" y="510.4" font-size="13" font-weight="normal" textLength="25.7" lengthAdjust="spacingAndGlyphs">22pF</text>
<text x="295.2" y="501.6" font-size="13" font-weight="normal" textLength="25.4" lengthAdjust="spacingAndGlyphs">22pF</text>
<text x="270" y="556" font-size="13" font-weight="normal" textLength="31.95" lengthAdjust="spacingAndGlyphs">4MHz</text>
<rect x="311" y="531" width="150" height="150" stroke="#000" stroke-width="2" fill="#fff"/>
<text x="319.9" y="550.8" font-size="13" font-weight="normal" textLength="22.33" lengthAdjust="spacingAndGlyphs">RA7</text>
<text x="319.9" y="566.05" font-size="13" font-weight="normal" textLength="22.33" lengthAdjust="spacingAndGlyphs">RA6</text>
<text x="319.9" y="581.3" font-size="13" font-weight="normal" textLength="22.33" lengthAdjust="spacingAndGlyphs">RA5</text>
<text x="319.9" y="596.55" font-size="13" font-weight="normal" textLength="22.33" lengthAdjust="spacingAndGlyphs">RA4</text>
<text x="319.9" y="611.8" font-size="13" font-weight="normal" textLength="22.33" lengthAdjust="spacingAndGlyphs">RA3</text>
<text x="319.9" y="627.05" font-size="13" font-weight="normal" textLength="22.33" lengthAdjust="spacingAndGlyphs">RA2</text>
<text x="319.9" y="642.3" font-size="13" font-weight="normal" textLength="22.33" lengthAdjust="spacingAndGlyphs">RA1</text>
<text x="319.9" y="657.55" font-size="13" font-weight="normal" textLength="22.33" lengthAdjust="spacingAndGlyphs">RA0</text>
<text x="429.8" y="550.8" font-size="13" font-weight="normal" textLength="22.33" lengthAdjust="spacingAndGlyphs">RB7</text>
<text x="429.8" y="566.05" font-size="13" font-weight="normal" textLength="22.33" lengthAdjust="spacingAndGlyphs">RB6</text>
<text x="429.8" y="581.3" font-size="13" font-weight="normal" textLength="22.33" lengthAdjust="spacingAndGlyphs">RB5</text>
<text x="429.8" y="596.55" font-size="13" font-weight="normal" textLength="22.33" lengthAdjust="spacingAndGlyphs">RB4</text>
<text x="429.8" y="611.8" font-size="13" font-weight="normal" textLength="22.33" lengthAdjust="spacingAndGlyphs">RB3</text>
<text x="429.8" y="627.05" font-size="13" font-weight="normal" textLength="22.33" lengthAdjust="spacingAndGlyphs">RB2</text>
<text x="429.8" y="642.3" font-size="13" font-weight="normal" textLength="22.33" lengthAdjust="spacingAndGlyphs">RB1</text>
<text x="429.8" y="657.55" font-size="13" font-weight="normal" textLength="22.33" lengthAdjust="spacingAndGlyphs">RB0</text>
<text x="375.1" y="550.7" font-size="13" font-weight="normal" textLength="17.86" lengthAdjust="spacingAndGlyphs">+5v</text>
<text x="371.5" y="600" font-size="19" font-weight="normal" textLength="29.13" lengthAdjust="spacingAndGlyphs">PIC</text>
<text x="353.6" y="623" font-size="19" font-weight="normal" textLength="64.14" lengthAdjust="spacingAndGlyphs">16F627</text>
<text x="378.9" y="668.8" font-size="13" font-weight="normal" textLength="11.18" lengthAdjust="spacingAndGlyphs">0v</text>
<path d="M95 570 L95 735" stroke="#000" stroke-width="2" fill="none"/>
<path d="M95 570 L110 570" stroke="#000" stroke-width="2" fill="none"/>
<path d="M129 570 L143 570" stroke="#000" stroke-width="2" fill="none"/>
<ellipse cx="112.5" cy="570.5" rx="2.3" ry="2.7" stroke="#000" stroke-width="1.8" fill="#fff"/>
<ellipse cx="127.2" cy="570.5" rx="2.3" ry="2.7" stroke="#000" stroke-width="1.8" fill="#fff"/>
<path d="M106 561 L133 561" stroke="#000" stroke-width="2" fill="none"/>
<path d="M112 561 L112 554 L127 554 L127 561" stroke="#000" stroke-width="2" fill="none"/>
<path d="M95 609 L108 609" stroke="#000" stroke-width="2" fill="none"/>
<ellipse cx="110.5" cy="609.5" rx="2.3" ry="2.8" stroke="#000" stroke-width="1.8" fill="#fff"/>
<ellipse cx="128.6" cy="600" rx="2.3" ry="2.8" stroke="#000" stroke-width="1.8" fill="#fff"/>
<path d="M131 600 L143 600" stroke="#000" stroke-width="2" fill="none"/>
<ellipse cx="131.5" cy="609.5" rx="2.3" ry="2.8" stroke="#000" stroke-width="1.8" fill="#fff"/>
<ellipse cx="128.6" cy="618.8" rx="2.3" ry="2.8" stroke="#000" stroke-width="1.8" fill="#fff"/>
<path d="M131 618 L143 618" stroke="#000" stroke-width="2" fill="none"/>
<path d="M113.9 609.2 L123.7 603.6" stroke="#000" stroke-width="1.9" fill="none"/>
<path d="M119.4 602.3 L125.8 602.1 L123.4 609.7 L122.2 604.9 Z" fill="#000"/>
<path d="M95 646 L108 646" stroke="#000" stroke-width="2" fill="none"/>
<ellipse cx="110.5" cy="646" rx="2.3" ry="2.8" stroke="#000" stroke-width="1.8" fill="#fff"/>
<ellipse cx="128.6" cy="636.5" rx="2.3" ry="2.8" stroke="#000" stroke-width="1.8" fill="#fff"/>
<path d="M131 636 L143 636" stroke="#000" stroke-width="2" fill="none"/>
<ellipse cx="128.6" cy="654.5" rx="2.3" ry="2.8" stroke="#000" stroke-width="1.8" fill="#fff"/>
<path d="M113.9 645.7 L123.7 640.1" stroke="#000" stroke-width="1.9" fill="none"/>
<path d="M119.4 638.8 L125.8 638.6 L123.4 646.2 L122.2 641.4 Z" fill="#000"/>
<path d="M95 681 L108 681" stroke="#000" stroke-width="2" fill="none"/>
<path d="M128 681 L142 681" stroke="#000" stroke-width="2" fill="none"/>
<ellipse cx="110.5" cy="681.5" rx="2.3" ry="2.7" stroke="#000" stroke-width="1.8" fill="#fff"/>
<ellipse cx="125.7" cy="681.5" rx="2.3" ry="2.7" stroke="#000" stroke-width="1.8" fill="#fff"/>
<path d="M104 672 L131 672" stroke="#000" stroke-width="2" fill="none"/>
<path d="M110 672 L110 666 L125 666 L125 672" stroke="#000" stroke-width="2" fill="none"/>
<circle cx="95" cy="750.7" r="5.3" stroke="#000" stroke-width="2" fill="#fff"/>
<path d="M95 735 L95 745" stroke="#000" stroke-width="2" fill="none"/>
<text x="104.2" y="759.8" font-size="13" font-weight="normal" textLength="17.66" lengthAdjust="spacingAndGlyphs">+5v</text>
<text x="30.8" y="572" font-size="13" font-weight="bold" textLength="46.29" lengthAdjust="spacingAndGlyphs">Reverse</text>
<text x="42" y="601.7" font-size="13" font-weight="bold" textLength="35.31" lengthAdjust="spacingAndGlyphs">Speed</text>
<text x="44" y="616.6" font-size="13" font-weight="bold" textLength="33.95" lengthAdjust="spacingAndGlyphs">Select</text>
<text x="24.4" y="655.1" font-size="13" font-weight="bold" textLength="52.69" lengthAdjust="spacingAndGlyphs">Direction</text>
<text x="34" y="685.3" font-size="13" font-weight="bold" textLength="46.03" lengthAdjust="spacingAndGlyphs">Forward</text>
<path d="M143 570 L259 570 L259 687" stroke="#000" stroke-width="2" fill="none"/>
<path d="M214 579 L255.5 579 C256.1 573.68 262.9 573.68 263.5 579 L287 579" stroke="#000" stroke-width="2" fill="none"/>
<path d="M287 579 L287 591 L311 591" stroke="#000" stroke-width="2" fill="none"/>
<path d="M214 579 L214 687" stroke="#000" stroke-width="2" fill="none"/>
<path d="M143 600 L210.5 600 C211.1 594.68 217.9 594.68 218.5 600 L255.5 600 C256.1 594.68 262.9 594.68 263.5 600 L294 600" stroke="#000" stroke-width="2" fill="none"/>
<path d="M294 600 L294 606 L311 606" stroke="#000" stroke-width="2" fill="none"/>
<path d="M244 600 L244 687" stroke="#000" stroke-width="2" fill="none"/>
<path d="M143 618 L210.5 618 C211.1 612.68 217.9 612.68 218.5 618 L240.5 618 C241.1 612.68 247.9 612.68 248.5 618 L255.5 618 C256.1 612.68 262.9 612.68 263.5 618 L290 618" stroke="#000" stroke-width="2" fill="none"/>
<path d="M290 617 L300 618.6 L311 621" stroke="#000" stroke-width="2" fill="none"/>
<path d="M229 618 L229 687" stroke="#000" stroke-width="2" fill="none"/>
<path d="M143 636 L214 636" stroke="#000" stroke-width="2" fill="none"/>
<path d="M258.5 639 L303 639 Q308 638.6 311 636" stroke="#000" stroke-width="2" fill="none"/>
<path d="M142 681 L196 681 L196 657" stroke="#000" stroke-width="2" fill="none"/>
<path d="M196 657 L210.5 657 C211.1 651.68 217.9 651.68 218.5 657 L225.5 657 C226.1 651.68 232.9 651.68 233.5 657 L240.5 657 C241.1 651.68 247.9 651.68 248.5 657 L255.5 657 C256.1 651.68 262.9 651.68 263.5 657 L303 657" stroke="#000" stroke-width="2" fill="none"/>
<path d="M303 657 L303 651 L311 651" stroke="#000" stroke-width="2" fill="none"/>
<path d="M274 657 L274 687" stroke="#000" stroke-width="2" fill="none"/>
<path d="M214 687 L214 699" stroke="#000" stroke-width="2" fill="none"/>
<rect x="212" y="700" width="5" height="23" stroke="#000" stroke-width="2" fill="#fff"/>
<path d="M214 724 L214 735" stroke="#000" stroke-width="2" fill="none"/>
<path d="M229 687 L229 699" stroke="#000" stroke-width="2" fill="none"/>
<rect x="227" y="700" width="5" height="23" stroke="#000" stroke-width="2" fill="#fff"/>
<path d="M229 724 L229 735" stroke="#000" stroke-width="2" fill="none"/>
<path d="M244 687 L244 699" stroke="#000" stroke-width="2" fill="none"/>
<rect x="242" y="700" width="5" height="23" stroke="#000" stroke-width="2" fill="#fff"/>
<path d="M244 724 L244 735" stroke="#000" stroke-width="2" fill="none"/>
<path d="M259 687 L259 699" stroke="#000" stroke-width="2" fill="none"/>
<rect x="257" y="700" width="5" height="23" stroke="#000" stroke-width="2" fill="#fff"/>
<path d="M259 724 L259 735" stroke="#000" stroke-width="2" fill="none"/>
<path d="M274 687 L274 699" stroke="#000" stroke-width="2" fill="none"/>
<rect x="272" y="700" width="5" height="23" stroke="#000" stroke-width="2" fill="#fff"/>
<path d="M274 724 L274 735" stroke="#000" stroke-width="2" fill="none"/>
<path d="M191 735 L274 735" stroke="#000" stroke-width="2" fill="none"/>
<rect x="191" y="735" width="2" height="12" fill="#000"/>
<rect x="183" y="747" width="19" height="2" fill="#000"/>
<rect x="186" y="750" width="13" height="2" fill="#000"/>
<rect x="189" y="753" width="7" height="2" fill="#000"/>
<text x="289.3" y="709" font-size="13" font-weight="normal" textLength="48.05" lengthAdjust="spacingAndGlyphs">10K each</text>
<path d="M461 576 L581 576" stroke="#000" stroke-width="2" fill="none"/>
<path d="M461 591 L581 591" stroke="#000" stroke-width="2" fill="none"/>
<path d="M461 606 L581 606" stroke="#000" stroke-width="2" fill="none"/>
<path d="M461 621 L581 621" stroke="#000" stroke-width="2" fill="none"/>
<path d="M461 636 L581 636" stroke="#000" stroke-width="2" fill="none"/>
<path d="M461 651 L581 651" stroke="#000" stroke-width="2" fill="none"/>
<rect x="581" y="561" width="120" height="150" stroke="#000" stroke-width="2" fill="#fff"/>
<text x="584.8" y="580.4" font-size="13" font-weight="normal" textLength="42.96" lengthAdjust="spacingAndGlyphs">Enable 1</text>
<text x="584.8" y="595.65" font-size="13" font-weight="normal" textLength="42.96" lengthAdjust="spacingAndGlyphs">Enable 2</text>
<text x="584.8" y="610.9" font-size="13" font-weight="normal" textLength="33.28" lengthAdjust="spacingAndGlyphs">Input 4</text>
<text x="584.8" y="626.15" font-size="13" font-weight="normal" textLength="33.28" lengthAdjust="spacingAndGlyphs">Input 3</text>
<text x="584.8" y="641.4" font-size="13" font-weight="normal" textLength="33.28" lengthAdjust="spacingAndGlyphs">Input 2</text>
<text x="584.8" y="656.65" font-size="13" font-weight="normal" textLength="33.28" lengthAdjust="spacingAndGlyphs">Input 1</text>
<text x="653.9" y="595.6" font-size="13" font-weight="normal" textLength="41.8" lengthAdjust="spacingAndGlyphs">Output 4</text>
<text x="653.9" y="610.85" font-size="13" font-weight="normal" textLength="41.8" lengthAdjust="spacingAndGlyphs">Output 3</text>
<text x="653.9" y="626.1" font-size="13" font-weight="normal" textLength="41.8" lengthAdjust="spacingAndGlyphs">Output 2</text>
<text x="653.9" y="641.35" font-size="13" font-weight="normal" textLength="41.8" lengthAdjust="spacingAndGlyphs">Output 1</text>
<text x="645.2" y="575.7" font-size="13" font-weight="normal" textLength="17.46" lengthAdjust="spacingAndGlyphs">+5v</text>
<text x="635.7" y="674" font-size="19" font-weight="normal" textLength="41.02" lengthAdjust="spacingAndGlyphs">L293</text>
<text x="680.9" y="674" font-size="19" font-weight="normal" textLength="10.98" lengthAdjust="spacingAndGlyphs">D</text>
<text x="584.1" y="703" font-size="13" font-weight="normal" textLength="43" lengthAdjust="spacingAndGlyphs">V supply</text>
<text x="673.7" y="701.9" font-size="13" font-weight="normal" textLength="11.58" lengthAdjust="spacingAndGlyphs">0v</text>
<path d="M701 591 L757 591 L757 514 L792 514" stroke="#000" stroke-width="2" fill="none"/>
<path d="M701 606 L779 606 L779 562 L792 562" stroke="#000" stroke-width="2" fill="none"/>
<path d="M701 621 L728 621 L728 629 L836 629 L836 606" stroke="#000" stroke-width="2" fill="none"/>
<path d="M701 636 L884 636 L884 606" stroke="#000" stroke-width="2" fill="none"/>
<circle cx="859.4" cy="538.2" r="36.6" stroke="#000" stroke-width="2.2" fill="#fff"/>
<circle cx="858.8" cy="538.2" r="16.4" stroke="#000" stroke-width="2" fill="#fff"/>
<rect x="791" y="513" width="30" height="49" fill="#fff"/>
<rect x="790" y="513" width="28" height="1" fill="#000"/>
<rect x="798" y="516" width="17" height="1" fill="#000"/>
<rect x="798" y="519" width="17" height="1" fill="#000"/>
<rect x="798" y="522" width="17" height="1" fill="#000"/>
<rect x="798" y="525" width="17" height="1" fill="#000"/>
<rect x="798" y="528" width="17" height="1" fill="#000"/>
<rect x="798" y="531" width="17" height="1" fill="#000"/>
<rect x="798" y="534" width="17" height="1" fill="#000"/>
<rect x="798" y="537" width="17" height="1" fill="#000"/>
<rect x="798" y="540" width="17" height="1" fill="#000"/>
<rect x="798" y="543" width="17" height="1" fill="#000"/>
<rect x="798" y="546" width="17" height="1" fill="#000"/>
<rect x="798" y="549" width="17" height="1" fill="#000"/>
<rect x="798" y="552" width="17" height="1" fill="#000"/>
<rect x="798" y="555" width="17" height="1" fill="#000"/>
<rect x="798" y="558" width="17" height="1" fill="#000"/>
<rect x="790" y="561" width="28" height="1" fill="#000"/>
<rect x="795" y="517" width="3" height="2" fill="#000"/>
<rect x="815" y="517" width="3" height="2" fill="#000"/>
<rect x="793" y="520" width="5" height="2" fill="#000"/>
<rect x="815" y="520" width="5" height="2" fill="#000"/>
<rect x="793" y="523" width="5" height="2" fill="#000"/>
<rect x="815" y="523" width="5" height="2" fill="#000"/>
<rect x="793" y="526" width="5" height="2" fill="#000"/>
<rect x="815" y="526" width="5" height="2" fill="#000"/>
<rect x="793" y="529" width="5" height="2" fill="#000"/>
<rect x="815" y="529" width="5" height="2" fill="#000"/>
<rect x="793" y="532" width="5" height="2" fill="#000"/>
<rect x="815" y="532" width="5" height="2" fill="#000"/>
<rect x="793" y="535" width="5" height="2" fill="#000"/>
<rect x="815" y="535" width="5" height="2" fill="#000"/>
<rect x="793" y="538" width="5" height="2" fill="#000"/>
<rect x="815" y="538" width="5" height="2" fill="#000"/>
<rect x="793" y="541" width="5" height="2" fill="#000"/>
<rect x="815" y="541" width="5" height="2" fill="#000"/>
<rect x="793" y="544" width="5" height="2" fill="#000"/>
<rect x="815" y="544" width="5" height="2" fill="#000"/>
<rect x="793" y="547" width="5" height="2" fill="#000"/>
<rect x="815" y="547" width="5" height="2" fill="#000"/>
<rect x="793" y="550" width="5" height="2" fill="#000"/>
<rect x="815" y="550" width="5" height="2" fill="#000"/>
<rect x="793" y="553" width="5" height="2" fill="#000"/>
<rect x="815" y="553" width="5" height="2" fill="#000"/>
<rect x="795" y="556" width="3" height="2" fill="#000"/>
<rect x="815" y="556" width="3" height="2" fill="#000"/>
<rect x="791" y="516" width="1" height="43" fill="#000"/>
<rect x="820" y="516" width="1" height="43" fill="#000"/>
<rect x="792" y="515" width="1" height="1" fill="#000"/>
<rect x="793" y="514" width="1" height="1" fill="#000"/>
<rect x="818" y="514" width="1" height="1" fill="#000"/>
<rect x="819" y="515" width="1" height="1" fill="#000"/>
<rect x="792" y="559" width="1" height="1" fill="#000"/>
<rect x="793" y="560" width="1" height="1" fill="#000"/>
<rect x="818" y="560" width="1" height="1" fill="#000"/>
<rect x="819" y="559" width="1" height="1" fill="#000"/>
<rect x="836" y="576" width="49" height="31" fill="#fff"/>
<rect x="836" y="579" width="1" height="25" fill="#000"/>
<rect x="839" y="583" width="1" height="17" fill="#000"/>
<rect x="842" y="583" width="1" height="17" fill="#000"/>
<rect x="845" y="583" width="1" height="17" fill="#000"/>
<rect x="848" y="583" width="1" height="17" fill="#000"/>
<rect x="851" y="583" width="1" height="17" fill="#000"/>
<rect x="854" y="583" width="1" height="17" fill="#000"/>
<rect x="857" y="583" width="1" height="17" fill="#000"/>
<rect x="860" y="583" width="1" height="17" fill="#000"/>
<rect x="863" y="583" width="1" height="17" fill="#000"/>
<rect x="866" y="583" width="1" height="17" fill="#000"/>
<rect x="869" y="583" width="1" height="17" fill="#000"/>
<rect x="872" y="583" width="1" height="17" fill="#000"/>
<rect x="875" y="583" width="1" height="17" fill="#000"/>
<rect x="878" y="583" width="1" height="17" fill="#000"/>
<rect x="881" y="583" width="1" height="17" fill="#000"/>
<rect x="884" y="579" width="1" height="25" fill="#000"/>
<rect x="840" y="580" width="2" height="3" fill="#000"/>
<rect x="840" y="600" width="2" height="3" fill="#000"/>
<rect x="843" y="578" width="2" height="5" fill="#000"/>
<rect x="843" y="600" width="2" height="5" fill="#000"/>
<rect x="846" y="578" width="2" height="5" fill="#000"/>
<rect x="846" y="600" width="2" height="5" fill="#000"/>
<rect x="849" y="578" width="2" height="5" fill="#000"/>
<rect x="849" y="600" width="2" height="5" fill="#000"/>
<rect x="852" y="578" width="2" height="5" fill="#000"/>
<rect x="852" y="600" width="2" height="5" fill="#000"/>
<rect x="855" y="578" width="2" height="5" fill="#000"/>
<rect x="855" y="600" width="2" height="5" fill="#000"/>
<rect x="858" y="578" width="2" height="5" fill="#000"/>
<rect x="858" y="600" width="2" height="5" fill="#000"/>
<rect x="861" y="578" width="2" height="5" fill="#000"/>
<rect x="861" y="600" width="2" height="5" fill="#000"/>
<rect x="864" y="578" width="2" height="5" fill="#000"/>
<rect x="864" y="600" width="2" height="5" fill="#000"/>
<rect x="867" y="578" width="2" height="5" fill="#000"/>
<rect x="867" y="600" width="2" height="5" fill="#000"/>
<rect x="870" y="578" width="2" height="5" fill="#000"/>
<rect x="870" y="600" width="2" height="5" fill="#000"/>
<rect x="873" y="578" width="2" height="5" fill="#000"/>
<rect x="873" y="600" width="2" height="5" fill="#000"/>
<rect x="876" y="578" width="2" height="5" fill="#000"/>
<rect x="876" y="600" width="2" height="5" fill="#000"/>
<rect x="879" y="580" width="2" height="3" fill="#000"/>
<rect x="879" y="600" width="2" height="3" fill="#000"/>
<rect x="839" y="576" width="43" height="1" fill="#000"/>
<rect x="839" y="606" width="43" height="1" fill="#000"/>
<rect x="837" y="578" width="1" height="1" fill="#000"/>
<rect x="838" y="577" width="1" height="1" fill="#000"/>
<rect x="882" y="577" width="1" height="1" fill="#000"/>
<rect x="883" y="578" width="1" height="1" fill="#000"/>
<rect x="837" y="604" width="1" height="1" fill="#000"/>
<rect x="838" y="605" width="1" height="1" fill="#000"/>
<rect x="882" y="605" width="1" height="1" fill="#000"/>
<rect x="883" y="604" width="1" height="1" fill="#000"/>
<text x="768.4" y="546" font-size="24" font-weight="normal" textLength="14.31" lengthAdjust="spacingAndGlyphs">B</text>
<text x="849" y="628.5" font-size="24" font-weight="normal" textLength="15.21" lengthAdjust="spacingAndGlyphs">A</text>
<text x="752.6" y="691" font-size="24.5" font-weight="bold" textLength="122.07" lengthAdjust="spacingAndGlyphs">DEC Drive</text>
<use href="#mk" x="200" y="486"/>
<use href="#mk" x="245" y="486"/>
<use href="#mk" x="281" y="486"/>
<use href="#mk" x="245" y="513"/>
<use href="#mk" x="281" y="513"/>
<use href="#mk" x="245" y="546"/>
<use href="#mk" x="281" y="546"/>
<use href="#mk" x="386" y="531"/>
<use href="#mk" x="386" y="681"/>
<use href="#mk" x="95" y="570"/>
<use href="#mk" x="143" y="570"/>
<use href="#mk" x="95" y="609"/>
<use href="#mk" x="143" y="600"/>
<use href="#mk" x="143" y="618"/>
<use href="#mk" x="95" y="646"/>
<use href="#mk" x="143" y="636"/>
<use href="#mk" x="143" y="654"/>
<use href="#mk" x="95" y="681"/>
<use href="#mk" x="142" y="681"/>
<use href="#mk" x="95" y="735"/>
<use href="#mk" x="192" y="735"/>
<use href="#mk" x="656" y="561"/>
<use href="#mk" x="596" y="711"/>
<use href="#mk" x="686" y="711"/>
<use href="#mk" x="779" y="514"/>
<use href="#mk" x="779" y="561"/>
<use href="#mk" x="836" y="618"/>
<use href="#mk" x="884" y="618"/>
<use href="#mk" x="311" y="546"/>
<use href="#mk" x="461" y="546"/>
<use href="#mk" x="311" y="561"/>
<use href="#mk" x="461" y="561"/>
<use href="#mk" x="311" y="576"/>
<use href="#mk" x="461" y="576"/>
<use href="#mk" x="311" y="591"/>
<use href="#mk" x="461" y="591"/>
<use href="#mk" x="311" y="606"/>
<use href="#mk" x="461" y="606"/>
<use href="#mk" x="311" y="621"/>
<use href="#mk" x="461" y="621"/>
<use href="#mk" x="311" y="636"/>
<use href="#mk" x="461" y="636"/>
<use href="#mk" x="311" y="651"/>
<use href="#mk" x="461" y="651"/>
<use href="#mk" x="214" y="687"/>
<use href="#mk" x="214" y="735"/>
<use href="#mk" x="229" y="687"/>
<use href="#mk" x="229" y="735"/>
<use href="#mk" x="244" y="687"/>
<use href="#mk" x="244" y="735"/>
<use href="#mk" x="259" y="687"/>
<use href="#mk" x="259" y="735"/>
<use href="#mk" x="274" y="687"/>
<use href="#mk" x="274" y="735"/>
<use href="#mk" x="581" y="576"/>
<use href="#mk" x="581" y="591"/>
<use href="#mk" x="581" y="606"/>
<use href="#mk" x="581" y="621"/>
<use href="#mk" x="581" y="636"/>
<use href="#mk" x="581" y="651"/>
<use href="#mk" x="701" y="591"/>
<use href="#mk" x="701" y="606"/>
<use href="#mk" x="701" y="621"/>
<use href="#mk" x="701" y="636"/>
</svg></body></html>
